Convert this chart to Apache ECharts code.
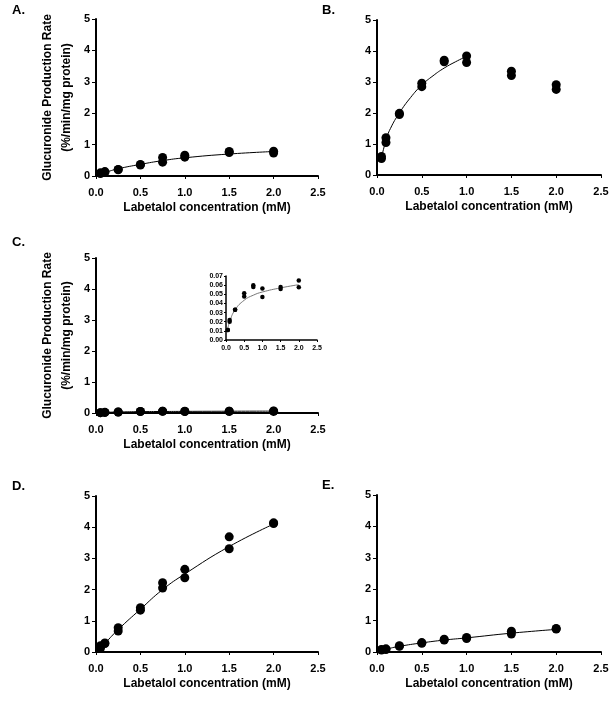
<!DOCTYPE html>
<html>
<head>
<meta charset="utf-8">
<script src="https://cdn.jsdelivr.net/npm/echarts@6/dist/echarts.min.js"></script>
<style>
  html, body { margin: 0; padding: 0; background: #fff; }
  #chart { width: 612px; height: 702px; }
</style>
</head>
<body>
<div id="chart"></div>
<script>
  // measured concentrations (mM), two replicates each
  var concPts = [0.05, 0.05, 0.1, 0.1, 0.25, 0.25, 0.5, 0.5, 0.75, 0.75, 1, 1, 1.5, 1.5, 2, 2]
  var rateA = [0.08, 0.10, 0.14, 0.12, 0.21, 0.20, 0.37, 0.35, 0.59, 0.44, 0.66, 0.60, 0.78, 0.75, 0.79, 0.73]
  var rateB = [0.60, 0.53, 1.20, 1.05, 1.99, 1.95, 2.96, 2.85, 3.70, 3.65, 3.84, 3.63, 3.35, 3.21, 2.91, 2.76]
  var rateC = [0.011, 0.011, 0.022, 0.020, 0.033, 0.033, 0.051, 0.0475, 0.0598, 0.058, 0.0562, 0.0471, 0.058, 0.0558, 0.0652, 0.0576]
  var rateD = [0.20, 0.12, 0.29, 0.27, 0.78, 0.67, 1.42, 1.34, 2.22, 2.05, 2.65, 2.38, 3.69, 3.31, 4.14, 4.12]
  var rateE = [0.08, 0.06, 0.10, 0.08, 0.20, 0.18, 0.30, 0.28, 0.41, 0.38, 0.46, 0.43, 0.66, 0.57, 0.75, 0.73]

  // fitted curves
  var fitX = [0.05, 0.1, 0.25, 0.5, 0.75, 1, 1.5, 2]
  var fitA = [0.06, 0.11, 0.23, 0.37, 0.49, 0.58, 0.70, 0.78]
  var fitC = [0.012, 0.020, 0.033, 0.0435, 0.049, 0.0525, 0.057, 0.0605]
  var fitD = [0.15, 0.28, 0.72, 1.37, 2.0, 2.5, 3.38, 4.1]
  var fitE = [0.05, 0.09, 0.18, 0.29, 0.38, 0.45, 0.60, 0.72]
  var fitXB = [0.05, 0.1, 0.15, 0.25, 0.375, 0.5, 0.625, 0.75, 0.875, 1]
  var fitB = [0.55, 1.12, 1.5, 2.0, 2.5, 2.9, 3.2, 3.45, 3.65, 3.83]

  var xTicks = ['0.0', '0.5', '1.0', '1.5', '2.0', '2.5']
  var yTicks = ['0', '1', '2', '3', '4', '5']
  var insetTicks = ['0.00', '0.01', '0.02', '0.03', '0.04', '0.05', '0.06', '0.07']

  var font = 'Liberation Sans, Arial, sans-serif'
  var xTitle = 'Labetalol concentration (mM)'
  var yTitle = 'Glucuronide Production Rate\n(%/min/mg protein)'

  function pairs (xs, ys) {
    return xs.map(function (x, i) { return [x, ys[i]] })
  }

  var grids = [
    {left: 96, top: 19, width: 222, height: 157},   // A
    {left: 377, top: 20, width: 224, height: 155},  // B
    {left: 96, top: 258, width: 222, height: 155},  // C
    {left: 377, top: 495, width: 224, height: 157}, // E
    {left: 96, top: 496, width: 222, height: 156},  // D
    {left: 226, top: 276, width: 91, height: 64}    // C inset
  ]

  var xAxes = []
  var yAxes = []
  var withXTitle = [true, true, true, true, true, false]
  var withYTitle = [true, false, true, false, false, false]
  grids.forEach(function (g, i) {
    var inset = i === 5
    xAxes.push({
      type: 'value', gridIndex: i, min: 0, max: 2.5, interval: 0.5,
      axisLine: {onZero: false, lineStyle: {color: '#000', width: inset ? 1.5 : 2}},
      axisTick: {show: true, length: inset ? 2 : 3, lineStyle: {color: '#000', width: 1}},
      splitLine: {show: false},
      axisLabel: {
        color: '#000', fontFamily: font, fontWeight: 'bold', fontSize: inset ? 7 : 11,
        margin: inset ? 5 : 11,
        formatter: function (v) { return xTicks[Math.round(v / 0.5)] }
      },
      name: withXTitle[i] ? xTitle : '',
      nameLocation: 'middle', nameGap: 26,
      nameTextStyle: {color: '#000', fontFamily: font, fontWeight: 'bold', fontSize: 12}
    })
    yAxes.push({
      type: 'value', gridIndex: i, min: 0,
      max: inset ? 0.07 : 5, interval: inset ? 0.01 : 1,
      axisLine: {show: true, onZero: false, lineStyle: {color: '#000', width: inset ? 1.5 : 2}},
      axisTick: {show: true, length: inset ? 2 : 4, lineStyle: {color: '#000', width: 1}},
      splitLine: {show: false},
      axisLabel: {
        color: '#000', fontFamily: font, fontWeight: 'bold', fontSize: inset ? 7 : 11,
        margin: inset ? 3 : 6,
        formatter: function (v) {
          return inset ? insetTicks[Math.round(v / 0.01)] : yTicks[Math.round(v)]
        }
      },
      name: withYTitle[i] ? yTitle : '',
      nameLocation: 'middle', nameGap: 20,
      nameTextStyle: {color: '#000', fontFamily: font, fontWeight: 'bold', fontSize: 12, lineHeight: 19}
    })
  })

  var panels = [
    {pts: rateA, fx: fitX, fy: fitA, g: 0},
    {pts: rateB, fx: fitXB, fy: fitB, g: 1},
    {pts: rateC, fx: fitX, fy: fitC, g: 2},
    {pts: rateE, fx: fitX, fy: fitE, g: 3},
    {pts: rateD, fx: fitX, fy: fitD, g: 4},
    {pts: rateC, fx: fitX, fy: fitC, g: 5}
  ]

  var series = []
  panels.forEach(function (p) {
    var inset = p.g === 5
    series.push({
      type: 'line', xAxisIndex: p.g, yAxisIndex: p.g,
      data: pairs(p.fx, p.fy), smooth: true, showSymbol: false, silent: true,
      lineStyle: {color: inset ? '#777' : '#000', width: 1}, z: 2
    })
    series.push({
      type: 'scatter', xAxisIndex: p.g, yAxisIndex: p.g,
      data: pairs(concPts, p.pts), symbolSize: inset ? 4.5 : 9,
      itemStyle: {color: '#000', opacity: 1}, z: 3
    })
  })

  var letters = [['A.', 12, 4], ['B.', 322, 4], ['C.', 12, 236], ['D.', 12, 480], ['E.', 322, 479]]

  var myChart = echarts.init(document.getElementById('chart'))
  myChart.setOption({
    animation: false,
    backgroundColor: '#fff',
    grid: grids,
    xAxis: xAxes,
    yAxis: yAxes,
    series: series,
    graphic: letters.map(function (l) {
      return {
        type: 'text', left: l[1], top: l[2],
        style: {text: l[0], fill: '#000', font: 'bold 13px ' + font}
      }
    })
  })
</script>
</body>
</html>
